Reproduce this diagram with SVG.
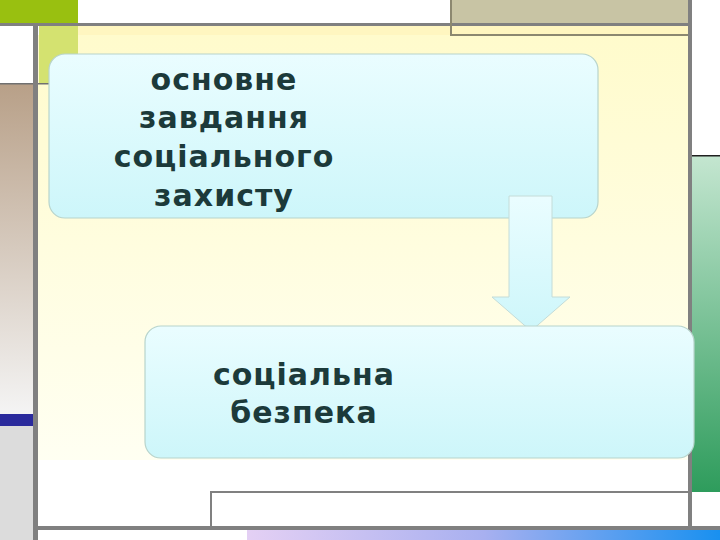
<svg xmlns="http://www.w3.org/2000/svg" width="720" height="540" viewBox="0 0 720 540">
<defs>
<style>
.gl{fill:#808080}
.t{font-family:"DejaVu Sans","Liberation Sans",sans-serif;font-weight:bold;font-size:30px;letter-spacing:1px;fill:#1c3a3a;text-anchor:middle}
.node{stroke:#b8d4cc;stroke-width:1.2}
</style>
<linearGradient id="bg" x1="0" y1="0" x2="0" y2="1"><stop offset="0" stop-color="#fffbcc"/><stop offset="1" stop-color="#fffff2"/></linearGradient>
<linearGradient id="cy" x1="0" y1="0" x2="0" y2="1"><stop offset="0" stop-color="#eafdff"/><stop offset="1" stop-color="#cdf6fa"/></linearGradient>
<linearGradient id="brown" x1="0" y1="0" x2="0" y2="1"><stop offset="0" stop-color="#b8a088"/><stop offset="1" stop-color="#f4f4f4"/></linearGradient>
<linearGradient id="rg" x1="0" y1="0" x2="0" y2="1"><stop offset="0" stop-color="#c4e6d0"/><stop offset="1" stop-color="#2e9c5c"/></linearGradient>
<linearGradient id="bb" x1="0" y1="0" x2="1" y2="0"><stop offset="0" stop-color="#e4d0f4"/><stop offset="0.5" stop-color="#a8b0f0"/><stop offset="1" stop-color="#1890f0"/></linearGradient>
</defs>
<g id="background">
<rect width="720" height="540" fill="#ffffff"/>
<rect x="0" y="0" width="78" height="24" fill="#99c010"/>
<rect x="450" y="0" width="240" height="24" fill="#c8c4a4"/>
<rect x="78" y="26" width="610" height="9" fill="#fff6c0"/>
<rect x="38" y="35" width="650" height="425" fill="url(#bg)"/>
<rect x="39" y="26" width="39" height="57" fill="#d4e270"/>
<rect x="0" y="84" width="33" height="330" fill="url(#brown)"/>
<rect x="0" y="414" width="33" height="12" fill="#2a2a9c"/>
<rect x="0" y="426" width="33" height="114" fill="#dcdcdc"/>
<rect x="692" y="156" width="28" height="336" fill="url(#rg)"/>
<rect x="247" y="530" width="473" height="10" fill="url(#bb)"/>
<rect class="gl" x="0" y="23" width="690" height="3"/>
<rect x="450" y="0" width="2" height="35" fill="#8c8870"/>
<rect x="450" y="34" width="240" height="2" fill="#8c8870"/>
<rect x="0" y="83" width="78" height="1.5" fill="#707070"/>
<rect class="gl" x="33" y="23" width="5" height="517"/>
<rect class="gl" x="688" y="0" width="4" height="530"/>
<rect x="692" y="155" width="28" height="1.5" fill="#202020"/>
<rect class="gl" x="210" y="491" width="482" height="2"/>
<rect class="gl" x="210" y="491" width="2" height="37"/>
<rect class="gl" x="33" y="526" width="687" height="4"/>
</g>
<g id="node1">
<rect class="node" x="49" y="54" width="549" height="164" rx="16" fill="url(#cy)"/>
<text class="t" x="224" y="90">основне</text>
<text class="t" x="224" y="128">завдання</text>
<text class="t" x="224" y="167">соціального</text>
<text class="t" x="224" y="206">захисту</text>
</g>
<g id="connectors">
<path d="M509 196 H552 V297 H570 L531 331 L492 297 H509 Z" fill="url(#cy)" stroke="#c4dcd8" stroke-width="1"/>
</g>
<g id="node2">
<rect class="node" x="145" y="326" width="549" height="132" rx="16" fill="url(#cy)"/>
<text class="t" x="304" y="385">соціальна</text>
<text class="t" x="304" y="423">безпека</text>
</g>
</svg>
